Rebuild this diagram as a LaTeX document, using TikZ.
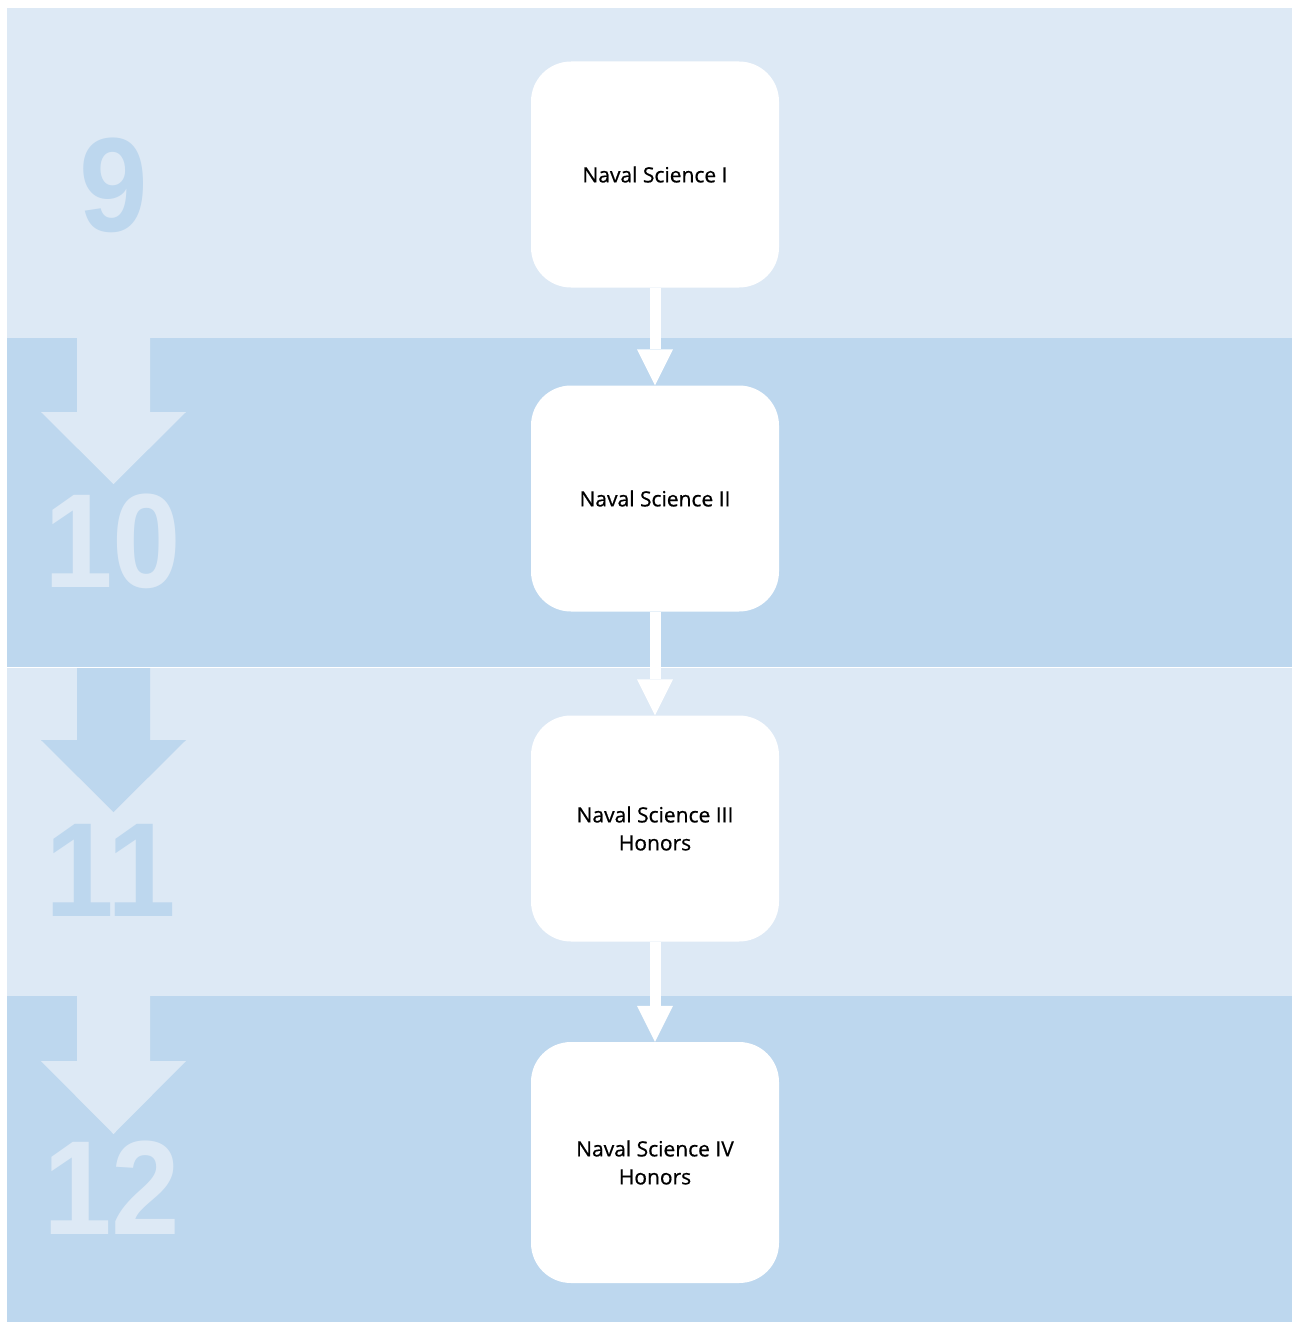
\documentclass[tikz,border=0pt]{standalone}
\usepackage{fontspec}
\setmainfont{Open Sans}
\newfontfamily\coursefont{Open Sans}[FakeBold=0.7]
\newfontfamily\gradefont{Liberation Sans}[FakeStretch=0.92]
\usetikzlibrary{arrows.meta,positioning}

\definecolor{bandlight}{HTML}{DDE9F5}
\definecolor{banddark}{HTML}{BDD7EE}

\tikzset{
  course/.style={fill=white, rounded corners=40pt, minimum width=248pt, minimum height=226pt,
    align=center, font=\coursefont\fontsize{21}{28}\selectfont},
  grade/.style={font=\gradefont\bfseries\fontsize{134}{134}\selectfont, inner sep=0pt},
  link/.style={draw=white, line width=11pt, -{Triangle[width=36pt, length=36pt, line width=0pt]}}
}

\begin{document}
\begin{tikzpicture}[x=1pt, y=-1pt]
  \useasboundingbox (0,0) rectangle (1292,1322);

  % Grade bands
  \fill[bandlight] (7,8) rectangle (1292,338);
  \fill[banddark] (7,338) rectangle (1292,667);
  \fill[bandlight] (7,668) rectangle (1292,996);
  \fill[banddark] (7,996) rectangle (1292,1322);
  \draw[white] (7,667.5) -- (1292,667.5);

  % Big arrows on the left
  \foreach \top/\shaft/\tip/\col in {338/74/146/bandlight, 668/72/144/banddark, 996/65/138/bandlight}
    \fill[\col] (77,\top) -- (150,\top) -- (150,\top+\shaft) -- (186,\top+\shaft)
      -- (113.5,\top+\tip) -- (41,\top+\shaft) -- (77,\top+\shaft) -- cycle;

  % Grade numbers
  \node[grade, text=banddark] (g9) at (114,185) {9};
  \node[grade, text=bandlight] (g10) at (113,541) {10};
  \node[grade, text=banddark] (g11) at (111,870) {11};
  \node[grade, text=bandlight] (g12) at (112,1188) {12};

  % Courses
  \node[course] (ns1) at (655,174.5) {Naval Science I};
  \node[course] (ns2) at (655,498.5) {Naval Science II};
  \node[course] (ns3) at (655,828.5) {Naval Science III\\Honors};
  \node[course, minimum height=241pt] (ns4) at (655,1162.5) {Naval Science IV\\Honors};

  % Links
  \draw[link] (ns1) -- (ns2);
  \draw[link] (ns2) -- (ns3);
  \draw[link] (ns3) -- (ns4);
\end{tikzpicture}
\end{document}
